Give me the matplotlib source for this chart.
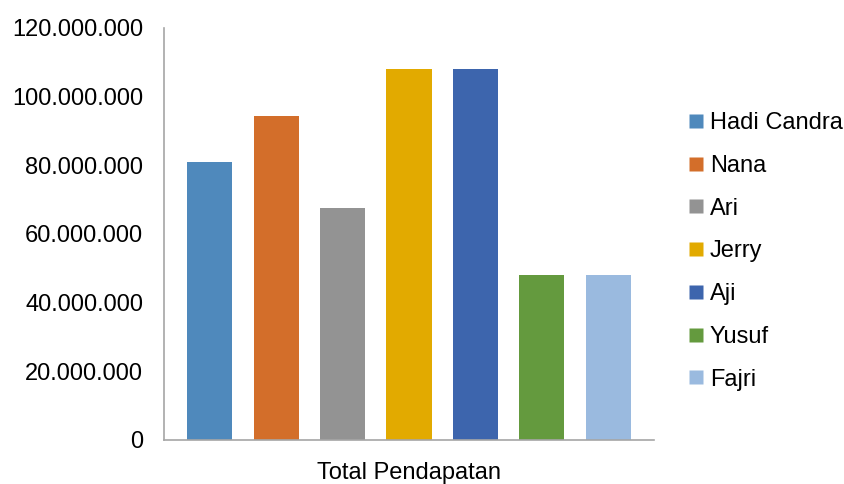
import matplotlib.pyplot as plt
from matplotlib.lines import Line2D
from matplotlib.ticker import FuncFormatter

NAMES = ["Hadi Candra", "Nana", "Ari", "Jerry", "Aji", "Yusuf", "Fajri"]
VALUES = [81_000_000, 94_500_000, 67_500_000, 108_000_000, 108_000_000, 48_000_000, 48_000_000]
COLORS = ["#4F89BC", "#D36E2A", "#939393", "#E2AA00", "#3D65AD", "#649A3E", "#9ABADF"]
Y_TICKS = [0, 20_000_000, 40_000_000, 60_000_000, 80_000_000, 100_000_000, 120_000_000]
X_LABEL = "Total Pendapatan"

plt.rcParams["font.family"] = ["Liberation Sans", "DejaVu Sans"]
FS = 17.0

fig = plt.figure(figsize=(8.45, 4.84), dpi=100)
ax = fig.add_axes([164 / 845, 44 / 484, 490 / 845, 412 / 484])

x = range(len(NAMES))
ax.bar(x, VALUES, width=0.68, color=COLORS, zorder=2)

ax.set_xlim(-0.69, 6.69)
ax.set_ylim(0, 120_000_000)
ax.set_yticks(Y_TICKS)
ax.yaxis.set_major_formatter(FuncFormatter(lambda v, p: f"{int(v):,}".replace(",", ".")))
ax.set_xticks([])
ax.tick_params(axis="y", length=0, pad=15, labelsize=FS)
ax.set_xlabel(X_LABEL, fontsize=FS, labelpad=16)

for s in ["top", "right"]:
    ax.spines[s].set_visible(False)
for s in ["left", "bottom"]:
    ax.spines[s].set_color("#A6A6A6")
    ax.spines[s].set_linewidth(1.2)

handles = [
    Line2D([0], [0], marker="s", linestyle="None", markerfacecolor=c,
           markeredgecolor="none", markersize=9.4, label=n)
    for n, c in zip(NAMES, COLORS)
]
fig.legend(
    handles=handles,
    loc="upper left",
    bbox_to_anchor=(688 / 845, 1 - 112 / 484),
    frameon=False,
    fontsize=FS,
    handlelength=0.7,
    handletextpad=0.22,
    labelspacing=0.88,
    borderaxespad=0,
    borderpad=0,
)

fig.savefig("out.png", dpi=100)
